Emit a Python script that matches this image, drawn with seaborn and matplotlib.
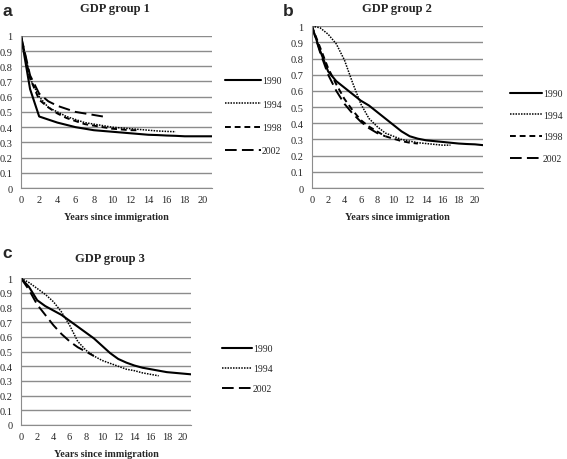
import matplotlib
matplotlib.use("Agg")
import matplotlib.pyplot as plt
import seaborn as sns

# Share of immigrants still present, by years since immigration
years = list(range(0, 22))

g1_1990 = [1, 0.65, 0.47, 0.45, 0.43, 0.415, 0.40, 0.39, 0.38, 0.375, 0.37, 0.365, 0.36, 0.355,
           0.35, 0.348, 0.345, 0.343, 0.34, 0.34, 0.34, 0.34]
g1_1994 = [1, 0.72, 0.60, 0.53, 0.50, 0.47, 0.45, 0.43, 0.42, 0.41, 0.40, 0.395, 0.39, 0.385,
           0.38, 0.375, 0.372, 0.37]
g1_1998 = [1, 0.72, 0.58, 0.53, 0.49, 0.46, 0.44, 0.42, 0.41, 0.40, 0.39, 0.385, 0.38, 0.38]
g1_2002 = [1, 0.74, 0.62, 0.57, 0.54, 0.52, 0.50, 0.49, 0.48, 0.47]

g2_1990 = [1, 0.85, 0.72, 0.66, 0.62, 0.58, 0.54, 0.51, 0.47, 0.43, 0.39, 0.35, 0.32, 0.305,
           0.295, 0.29, 0.285, 0.28, 0.275, 0.272, 0.27, 0.265]
g2_1994 = [1, 0.99, 0.95, 0.89, 0.79, 0.65, 0.52, 0.43, 0.38, 0.34, 0.32, 0.30, 0.29, 0.28,
           0.275, 0.27, 0.265, 0.265]
g2_1998 = [1, 0.87, 0.74, 0.64, 0.55, 0.48, 0.42, 0.38, 0.35, 0.32, 0.305, 0.29, 0.28, 0.275]
g2_2002 = [1, 0.84, 0.70, 0.60, 0.52, 0.46, 0.41, 0.37, 0.34, 0.32]

g3_1990 = [1, 0.94, 0.85, 0.81, 0.78, 0.75, 0.71, 0.67, 0.63, 0.59, 0.54, 0.49, 0.45, 0.425,
           0.405, 0.39, 0.38, 0.37, 0.36, 0.355, 0.35, 0.345]
g3_1994 = [1, 0.97, 0.93, 0.89, 0.84, 0.77, 0.68, 0.57, 0.51, 0.47, 0.44, 0.42, 0.40, 0.38,
           0.37, 0.355, 0.345, 0.335]
g3_2002 = [1, 0.92, 0.82, 0.75, 0.68, 0.62, 0.57, 0.53, 0.50, 0.47]

yticklabels = ["0", "0.1", "0.2", "0.3", "0.4", "0.5", "0.6", "0.7", "0.8", "0.9", "1"]

styles = {
    "1990": dict(linestyle="-", linewidth=1.5),
    "1994": dict(linestyle=(0, (1, 0.8)), linewidth=1.1),
    "1998": dict(linestyle=(0, (3, 2)), linewidth=1.4),
    "2002": dict(linestyle=(0, (6, 2.7)), linewidth=1.4),
}

sns.set_style("white")
plt.rcParams["font.family"] = ["Liberation Serif", "DejaVu Serif"]

fig = plt.figure(figsize=(5.67, 4.6), dpi=100)


def panel(rect, title, title_pos, letter, letter_pos, series, leg_anchor, leg_spacing,
          handle_len):
    ax = fig.add_axes(rect)
    for label, vals in series.items():
        sns.lineplot(x=years[:len(vals)], y=vals, ax=ax, color="black", label=label,
                     **styles[label])
    ax.set_xlim(0, 21)
    ax.set_ylim(0, 1)
    ax.set_xticks(range(0, 21, 2))
    ax.set_yticks([i / 10 for i in range(11)])
    ax.set_yticklabels(yticklabels)
    ax.grid(axis="y", color="#8c8c8c", linewidth=1)
    ax.set_axisbelow(True)
    for s in ["top", "right"]:
        ax.spines[s].set_visible(False)
    ax.spines["left"].set_color("#8c8c8c")
    ax.spines["bottom"].set_color("#8c8c8c")
    ax.tick_params(length=0, labelsize=7.5)
    ax.tick_params(axis="y", pad=6)
    ax.tick_params(axis="x", pad=5)
    ax.set_xlabel("Years since immigration", fontsize=7.3, fontweight="bold", labelpad=5.5)
    ax.set_ylabel("")
    fig.text(title_pos[0], title_pos[1], title, fontsize=9, fontweight="bold",
             ha="center", va="center")
    fig.text(letter_pos[0], letter_pos[1], letter, fontsize=12.5, fontweight="bold",
             family="Liberation Sans", va="center")
    ax.legend(loc="center left", bbox_to_anchor=leg_anchor, bbox_transform=fig.transFigure,
              frameon=False, fontsize=7, handlelength=handle_len, handletextpad=0.1,
              labelspacing=leg_spacing, borderpad=0)
    return ax


panel([0.037, 0.589, 0.337, 0.331], "GDP group 1", (115 / 567, 1 - 9 / 460),
      "a", (0.004, 1 - 11 / 460),
      {"1990": g1_1990, "1994": g1_1994, "1998": g1_1998, "2002": g1_2002},
      (220 / 567, 0.746), 1.47, 3.7)
panel([0.550, 0.589, 0.302, 0.352], "GDP group 2", (397 / 567, 1 - 9 / 460),
      "b", (283 / 567, 1 - 11 / 460),
      {"1990": g2_1990, "1994": g2_1994, "1998": g2_1998, "2002": g2_2002},
      (505 / 567, 0.724), 1.3, 3.3)
panel([0.037, 0.074, 0.300, 0.319], "GDP group 3", (110 / 567, 1 - 259 / 460),
      "c", (0.004, 1 - 253 / 460),
      {"1990": g3_1990, "1994": g3_1994, "2002": g3_2002},
      (217 / 567, 0.196), 1.14, 3.1)

fig.savefig("out.png", dpi=100)
